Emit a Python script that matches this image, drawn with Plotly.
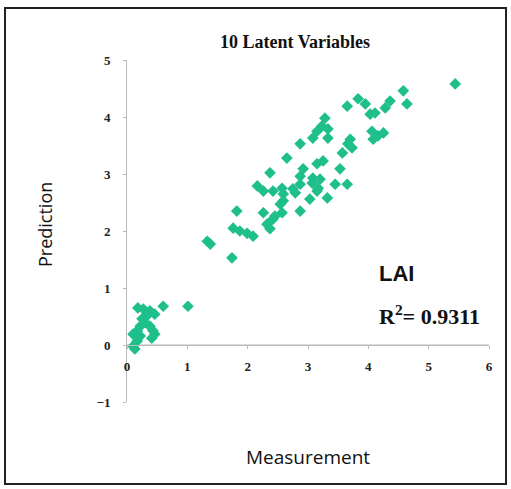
import plotly.graph_objects as go

measurement = [5.44, 4.58, 4.64, 4.36, 4.28, 3.83, 3.95, 3.65, 4.03, 4.11,
               3.28, 3.23, 3.33, 3.15, 3.08, 3.33, 2.87, 4.06, 4.16, 4.25,
               4.08, 3.70, 3.66, 3.57, 2.65, 2.37, 2.92, 3.15, 3.25, 3.53,
               2.87, 3.08, 3.20, 2.16, 2.26, 2.42, 2.57, 2.59, 2.75, 2.87,
               3.15, 3.45, 3.65, 3.03, 3.32, 2.26, 1.82, 2.87, 2.42, 2.57,
               2.32, 2.37, 1.76, 1.87, 1.99, 2.09, 1.33, 1.38, 1.74, 0.60,
               1.01, 0.18, 0.27, 0.38, 0.46, 0.33, 0.25, 0.30, 0.22, 0.38,
               0.43, 0.46, 0.41, 0.17, 0.10, 0.22, 0.17, 0.10, 0.13, 2.59,
               2.79, 3.07, 3.17, 3.73, 2.45, 2.54]
prediction = [4.58, 4.46, 4.23, 4.28, 4.16, 4.32, 4.23, 4.19, 4.05, 4.07,
              3.98, 3.84, 3.79, 3.75, 3.63, 3.63, 3.53, 3.75, 3.67, 3.72,
              3.61, 3.61, 3.53, 3.37, 3.28, 3.02, 3.09, 3.18, 3.23, 3.09,
              2.96, 2.93, 2.91, 2.79, 2.70, 2.70, 2.75, 2.65, 2.74, 2.82,
              2.70, 2.82, 2.82, 2.56, 2.58, 2.32, 2.35, 2.35, 2.21, 2.32,
              2.12, 2.04, 2.05, 2.00, 1.96, 1.91, 1.82, 1.77, 1.53, 0.68,
              0.68, 0.65, 0.63, 0.60, 0.54, 0.51, 0.46, 0.39, 0.33, 0.33,
              0.25, 0.19, 0.12, 0.25, 0.19, 0.16, 0.07, -0.02, -0.07, 2.53,
              2.67, 2.84, 2.75, 3.46, 2.26, 2.47]

x_ticks = [0, 1, 2, 3, 4, 5, 6]
y_ticks = [-1, 0, 1, 2, 3, 4, 5]

fig = go.Figure()
fig.add_trace(go.Scatter(
    x=measurement, y=prediction, mode="markers",
    marker=dict(symbol="diamond", size=9, color="#1fbf8c", line=dict(width=0)),
    showlegend=False, hoverinfo="skip"))

tickfont = dict(family="Liberation Serif", size=13, color="#222", weight="bold")
fig.update_layout(
    width=511, height=489,
    margin=dict(l=127, r=22, t=60, b=87),
    paper_bgcolor="white", plot_bgcolor="white",
    xaxis=dict(range=[0, 6], tickvals=x_ticks, ticks="outside", ticklen=3,
               tickcolor="#bbb", showline=True, linecolor="#bbb", linewidth=1,
               showgrid=False, zeroline=False, anchor="free", position=1/6,
               tickfont=tickfont, ticklabelstandoff=6),
    yaxis=dict(range=[-1, 5], tickvals=y_ticks, ticks="outside", ticklen=3,
               tickcolor="#bbb", showline=True, linecolor="#bbb", linewidth=1,
               showgrid=False, zeroline=False, tickfont=tickfont,
               ticklabelstandoff=10),
)

fig.add_shape(type="line", xref="x", yref="y", x0=0, x1=6, y0=0, y1=0,
              line=dict(color="#bbb", width=1), layer="below")

fig.add_shape(type="rect", xref="paper", yref="paper",
              x0=-0.337, x1=1.047, y0=-0.240, y1=1.152,
              line=dict(color="#222", width=2))

fig.add_annotation(text="<b>10 Latent Variables</b>", xref="paper", yref="paper",
                   x=0.464, y=1.053, xanchor="center", yanchor="middle", showarrow=False,
                   font=dict(family="Liberation Serif", size=18, color="#111"))
fig.add_annotation(text="Measurement", xref="paper", yref="paper",
                   x=0.5, y=-0.161, xanchor="center", yanchor="middle", showarrow=False,
                   font=dict(family="Open Sans", size=19, color="#111"))
fig.add_annotation(text="Prediction", xref="paper", yref="paper",
                   x=-0.2265, y=0.5175, xanchor="center", yanchor="middle",
                   textangle=-90, showarrow=False,
                   font=dict(family="Open Sans", size=18, color="#111"))
fig.add_annotation(text="<b>LAI</b>", xref="paper", yref="paper",
                   x=0.69, y=0.377, xanchor="left", yanchor="middle", showarrow=False,
                   font=dict(family="Liberation Sans", size=22, color="#111"))
fig.add_annotation(text="<b>R<sup>2</sup>= 0.9311</b>", xref="paper", yref="paper",
                   x=0.69, y=0.254, xanchor="left", yanchor="middle", showarrow=False,
                   font=dict(family="Liberation Serif", size=22, color="#111"))

fig.write_html("out.html")
